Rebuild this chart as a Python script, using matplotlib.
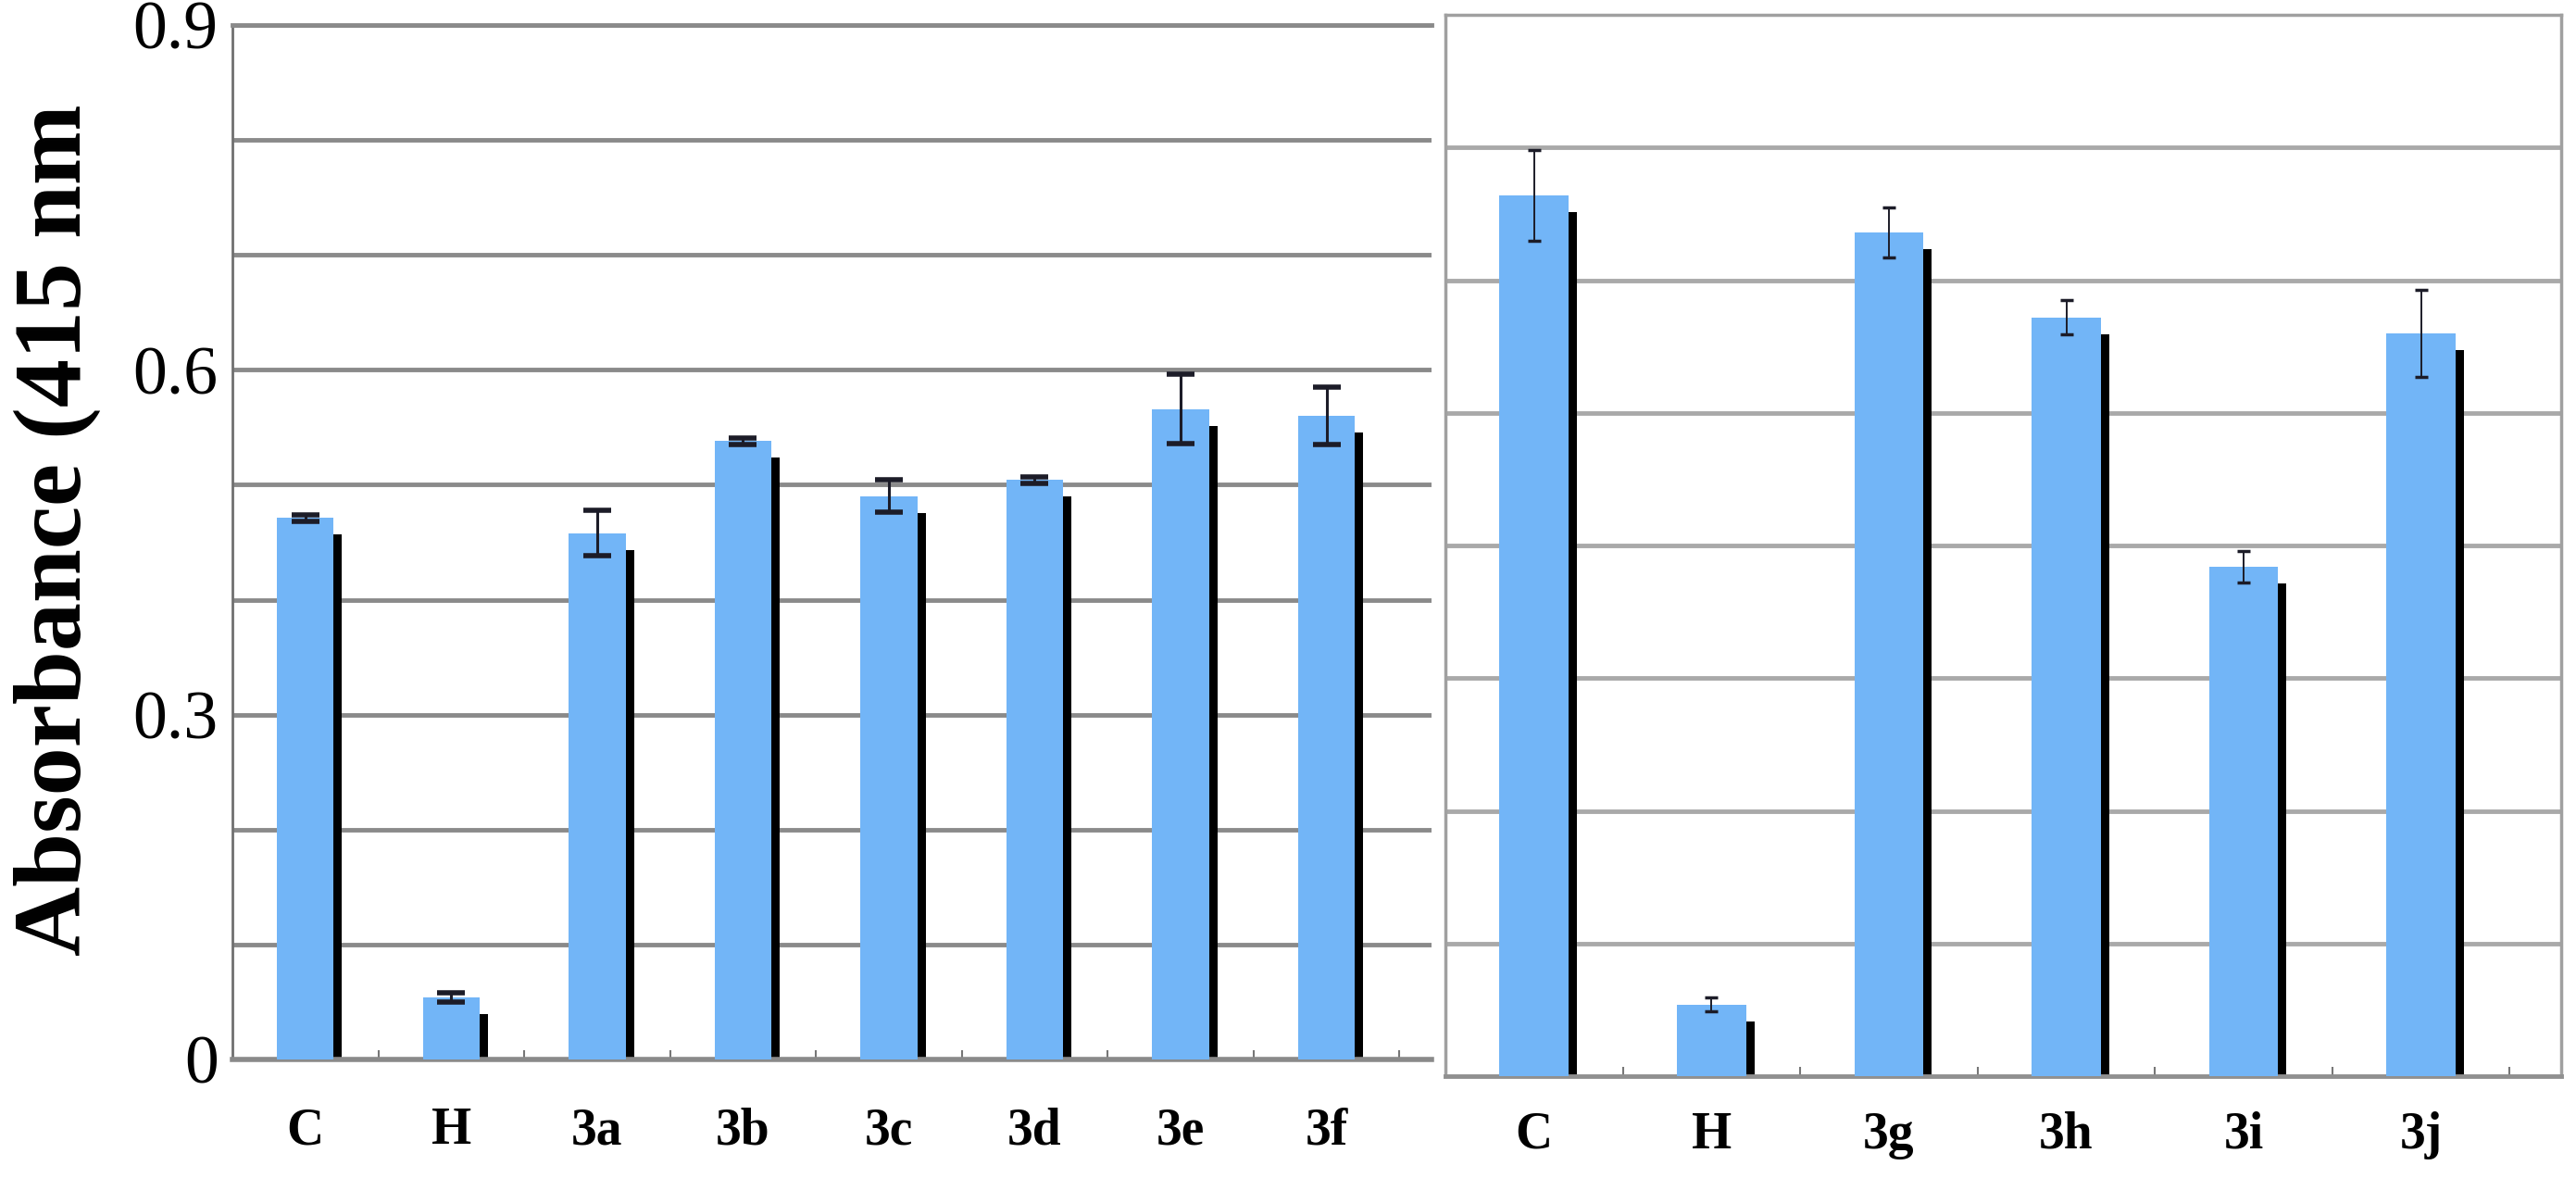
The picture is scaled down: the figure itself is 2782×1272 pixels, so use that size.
import matplotlib.pyplot as plt
import matplotlib.transforms as mtransforms
import numpy as np

# left panel (0 - 0.9 scale)
left_labels = ['C', 'H', '3a', '3b', '3c', '3d', '3e', '3f']
left_values = [0.471, 0.054, 0.458, 0.538, 0.490, 0.504, 0.566, 0.560]
left_errors = [0.003, 0.004, 0.020, 0.003, 0.014, 0.003, 0.030, 0.025]

# right panel (no tick labels, gridline every 0.1)
right_labels = ['C', 'H', '3g', '3h', '3i', '3j']
right_values = [0.664, 0.054, 0.636, 0.572, 0.384, 0.560]
right_errors = [0.034, 0.005, 0.019, 0.013, 0.012, 0.033]

ytick_vals = [0, 0.3, 0.6, 0.9]
ytick_text = ['0', '0.3', '0.6', '0.9']

bar_color = '#72b5f7'
W, H = 2782, 1272
fig = plt.figure(figsize=(W / 100, H / 100), dpi=100)


def px_axes(x0, y0, x1, y1):
    return fig.add_axes([x0 / W, 1 - y1 / H, (x1 - x0) / W, (y1 - y0) / H])


def draw_bars(ax, values, errors, elw, cap, capthick):
    x = np.arange(len(values))
    shadow = mtransforms.ScaledTranslation(9 / 100, -18 / 100, fig.dpi_scale_trans)
    ax.bar(x, values, width=0.39, color='black', transform=ax.transData + shadow, zorder=2)
    ax.bar(x, values, width=0.39, color=bar_color, zorder=3)
    ax.errorbar(x, values, yerr=errors, fmt='none', ecolor='#1c1c28', elinewidth=elw,
                capsize=cap, capthick=capthick, zorder=4)
    return x


def style_x(ax, x, labels, xmax, pad):
    ax.set_xlim(-0.5, xmax)
    ax.set_xticks(x)
    ax.set_xticklabels(labels, fontfamily='Liberation Serif', fontweight='bold', fontsize=40)
    ax.set_xticks(np.arange(0.5, xmax, 1.0), minor=True)
    ax.tick_params(axis='x', which='major', length=0, pad=pad)
    ax.tick_params(axis='x', which='minor', direction='in', length=7, width=1.5, color='#777777')


# ---- left panel
ax1 = px_axes(251, 27, 1546, 1144)
x1 = draw_bars(ax1, left_values, left_errors, 2.2, 10.5, 4.0)
ax1.set_ylim(0, 0.9)
ax1.set_yticks(ytick_vals)
ax1.set_yticklabels(ytick_text, fontfamily='Liberation Serif', fontsize=53)
ax1.set_yticks(np.arange(0.1, 0.91, 0.1), minor=True)
ax1.tick_params(axis='y', which='both', length=0, pad=11)
ax1.set_axisbelow(True)
ax1.grid(axis='y', which='both', color='#8a8a8a', linewidth=3.5)
style_x(ax1, x1, left_labels, 7.72, 37)
ax1.spines['right'].set_visible(False)
ax1.spines['top'].set_color('#8a8a8a')
ax1.spines['top'].set_linewidth(3.5)
ax1.spines['bottom'].set_color('#8a8a8a')
ax1.spines['bottom'].set_linewidth(4)
ax1.spines['left'].set_color('#707070')
ax1.spines['left'].set_linewidth(2)

# ---- right panel
ax2 = px_axes(1561, 16, 2766, 1162)
x2 = draw_bars(ax2, right_values, right_errors, 1.4, 5, 2.5)
ax2.set_ylim(0, 0.8)
ax2.set_yticks(np.arange(0.1, 0.8, 0.1))
ax2.set_yticklabels([])
ax2.tick_params(axis='y', length=0)
ax2.set_axisbelow(True)
ax2.grid(axis='y', color='#a9a9a9', linewidth=3.5)
style_x(ax2, x2, right_labels, 5.79, 27)
for side in ['left', 'right', 'top']:
    ax2.spines[side].set_color('#a0a0a0')
    ax2.spines[side].set_linewidth(2.5)
ax2.spines['bottom'].set_color('#909090')
ax2.spines['bottom'].set_linewidth(3.5)

fig.text(62 / W, 0.55, 'Absorbance (415 nm', rotation=90, ha='center', va='center',
         fontfamily='Liberation Serif', fontweight='bold', fontsize=75)

fig.savefig('out.png', dpi=100)
